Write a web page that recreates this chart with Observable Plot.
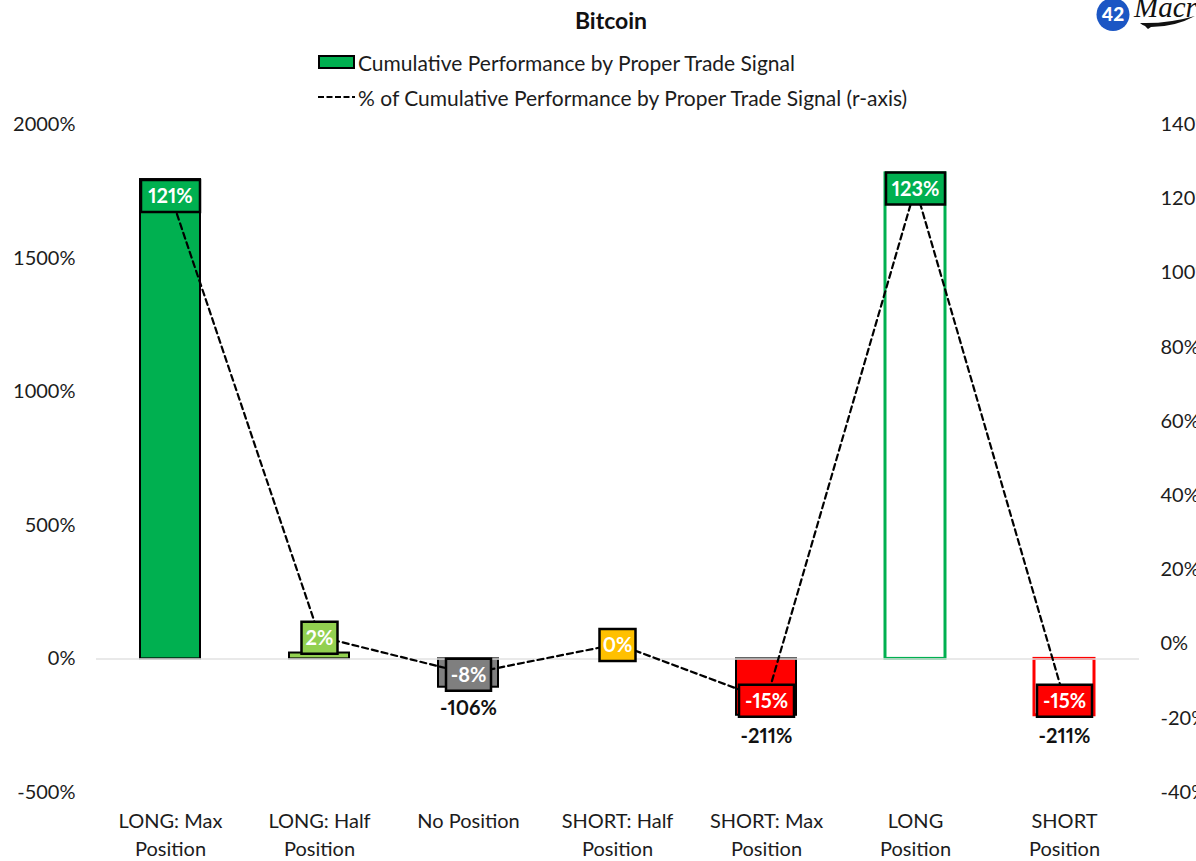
<!DOCTYPE html>
<html lang="en">
<head>
<meta charset="utf-8">
<title>Bitcoin</title>
<script src="https://cdn.jsdelivr.net/npm/d3@7"></script>
<script src="https://cdn.jsdelivr.net/npm/@observablehq/plot@0.6"></script>
<style>
  html, body { margin: 0; padding: 0; width: 1196px; height: 861px; overflow: hidden; background: #fff; }
  body { font-family: Lato, sans-serif; color: #1c1c1c; font-variant-numeric: proportional-nums; }
  header { position: relative; width: 1196px; height: 110px; overflow: hidden; }
  .title { position: absolute; left: 0; width: 1222px; top: 6px; text-align: center; font-size: 23px; font-weight: 700; line-height: 28px; color: #111; }
  .legend-row { position: absolute; left: 318px; height: 28px; display: flex; align-items: center; font-size: 21px; white-space: nowrap; }
  .legend-row svg { margin-right: 3px; display: block; }
  .brand { position: absolute; left: 1095px; top: -3px; }
  #chart svg { display: block; }
</style>
</head>
<body>
<header>
  <div class="title">Bitcoin</div>
  <div class="legend-row" style="top:48px">
    <svg width="37" height="16"><rect x="1" y="2" width="35" height="12" fill="#00B050" stroke="#000" stroke-width="2"/></svg>
    <span>Cumulative Performance by Proper Trade Signal</span>
  </div>
  <div class="legend-row" style="top:83px">
    <svg width="37" height="16"><line x1="0" x2="37" y1="8" y2="8" stroke="#000" stroke-width="2.200" stroke-dasharray="6 2.500"/></svg>
    <span>% of Cumulative Performance by Proper Trade Signal (r-axis)</span>
  </div>
  <svg class="brand" width="110" height="40">
    <circle cx="18" cy="17.500" r="16.500" fill="#1B56C4"/>
    <text x="18" y="24" text-anchor="middle" fill="#fff" font-family="Lato, sans-serif" font-weight="900" font-size="19">42</text>
    <text x="39" y="20" fill="#111" font-family="'Liberation Serif', serif" font-style="italic" font-size="29">Macro</text>
    <path d="M45 26 Q72 27 100 19 Q80 30 56 30 L53 32 L50 29 Q47 28 45 26 Z" fill="#111"/>
  </svg>
</header>
<div id="chart"></div>
<script>
// Signal buckets along the horizontal axis
const categories = [
  "LONG: Max\nPosition",
  "LONG: Half\nPosition",
  "No Position",
  "SHORT: Half\nPosition",
  "SHORT: Max\nPosition",
  "LONG\nPosition",
  "SHORT\nPosition"
];
// Cumulative performance by signal, percent (left axis)
const performance = [1794, 22, -106, 0, -211, 1817, -211];
// Share of cumulative performance by signal, percent (right axis)
const share = [121, 2, -8, 0, -15, 123, -15];
// Bucket colours: bar fill, bar outline, and value tag
const barFills = ["#00B050", "#92D050", "#7F7F7F", "#FFC000", "#FF0000", "#FFFFFF", "#FFFFFF"];
const barStrokes = ["#000", "#000", "#000", "#000", "#000", "#00B050", "#FF0000"];
const tagFills = ["#00B050", "#92D050", "#7F7F7F", "#FFC000", "#FF0000", "#00B050", "#FF0000"];
// Axis ticks
const leftTicks = [-500, 0, 500, 1000, 1500, 2000];
const rightTicks = [-40, -20, 0, 20, 40, 60, 80, 100, 120, 140];

const fontFamily = "Lato, sans-serif";
const tickColor = "#1c1c1c";

// The right axis shares the frame with the left one, so its values are
// carried into left-axis units through this linear map.
const toLeft = d3.scaleLinear().domain([-40, 140]).range([-500, 2000]);

const rows = categories.map((category, i) => ({
  category,
  performance: performance[i],
  share: share[i],
  mapped: toLeft(share[i]),
  barFill: barFills[i],
  barStroke: barStrokes[i],
  tagFill: tagFills[i],
  tag: `${share[i]}%`
}));

// Value tags hug their text, so the box is a custom symbol sized per label
function tagSymbol(width, height) {
  return {
    draw(context) {
      context.rect(-width / 2, -height / 2, width, height);
    }
  };
}
function tagWidth(text) {
  if (text.length <= 2) return 36;
  if (text.length === 3) return 45;
  return text.startsWith("-") ? 55 : 59;
}

const chart = Plot.plot({
  width: 1196,
  height: 751,
  marginTop: 14,
  marginBottom: 69,
  marginLeft: 96,
  marginRight: 57,
  style: { fontFamily, fontSize: "20px", background: "#fff", color: tickColor, fontVariantNumeric: "proportional-nums" },
  x: { domain: categories, paddingInner: 0.597, paddingOuter: 0.2985, label: null },
  y: { domain: [-500, 2000], label: null },
  marks: [
    Plot.barY(rows, {
      x: "category",
      y: "performance",
      fill: "barFill",
      stroke: "barStroke",
      // Hollow bars carry a heavier outline than the filled ones
      strokeWidth: (d) => (d.barFill === "#FFFFFF" ? 3 : 2)
    }),
    // Zero baseline sits over the bar ends
    Plot.ruleY([0], { stroke: "#e2e2e2", strokeWidth: 2, strokeOpacity: 0.75 }),
    Plot.line(rows, {
      x: "category",
      y: "mapped",
      stroke: "#000",
      strokeWidth: 2.2,
      strokeDasharray: "6 4"
    }),
    ...rows.map((row) =>
      Plot.dot([row], {
        x: "category",
        y: "mapped",
        dy: 1,
        r: 16,
        symbol: tagSymbol(tagWidth(row.tag), 32),
        fill: "tagFill",
        stroke: "#000",
        strokeWidth: 2.5
      })
    ),
    Plot.text(rows, {
      x: "category",
      y: "mapped",
      text: "tag",
      fill: "#fff",
      fontWeight: 700,
      fontSize: 20,
      dy: 2
    }),
    // Only the losing buckets show their bar value, below the bar end
    Plot.text(rows.filter((d) => d.performance < 0), {
      x: "category",
      y: "performance",
      text: (d) => `${d.performance}%`,
      fill: "#111",
      fontWeight: 700,
      fontSize: 20,
      dy: 21
    }),
    Plot.axisY({
      ticks: leftTicks,
      tickSize: 0,
      tickPadding: 21,
      tickFormat: (d) => `${d}%`,
      label: null
    }),
    Plot.axisY(rightTicks.map((d) => toLeft(d)), {
      anchor: "right",
      tickSize: 0,
      tickPadding: 21,
      tickFormat: (d) => `${Math.round(toLeft.invert(d))}%`,
      label: null
    }),
    Plot.axisX({
      tickSize: 0,
      tickPadding: 16,
      lineHeight: 1.4,
      label: null
    })
  ]
});
document.getElementById("chart").append(chart);
</script>
</body>
</html>
